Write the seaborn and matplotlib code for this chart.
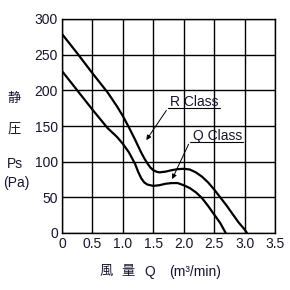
import seaborn as sns
import matplotlib.pyplot as plt

# fan curves
r_flow = [0, 0.25, 0.5, 0.75, 0.9, 1.0, 1.1, 1.2, 1.3, 1.35, 1.4, 1.45, 1.5, 1.55, 1.6,
          1.7, 1.8, 1.9, 2.0, 2.1, 2.2, 2.3, 2.4, 2.5, 2.6, 2.7, 2.8, 2.9, 3.0, 3.04]
r_ps = [279, 252, 224, 197, 178, 164, 148, 131, 113, 105, 98, 92, 88, 86, 85,
        86, 88, 89.5, 90, 89, 85, 79, 71, 61, 50, 39, 27, 15, 5, 0]
q_flow = [0, 0.25, 0.5, 0.75, 0.9, 1.0, 1.1, 1.2, 1.25, 1.3, 1.35, 1.4, 1.5, 1.6,
          1.7, 1.8, 1.9, 2.0, 2.1, 2.2, 2.3, 2.4, 2.5, 2.6, 2.69]
q_ps = [227, 200, 173, 147, 135, 125, 113, 97, 86, 77, 71, 68, 66, 67,
        69, 70, 70, 67, 63, 57, 49, 38, 26, 14, 0]

x_ticks = [0, 0.5, 1.0, 1.5, 2.0, 2.5, 3.0, 3.5]
x_tick_labels = ['0', '0.5', '1.0', '1.5', '2.0', '2.5', '3.0', '3.5']
y_ticks = [0, 50, 100, 150, 200, 250, 300]

sns.set_style('white')
plt.rcParams['font.family'] = ['Liberation Sans', 'Noto Sans CJK JP']
txt = '#15152e'

fig = plt.figure(figsize=(2.9, 2.9), dpi=100)
ax = fig.add_axes([62 / 290, 57 / 290, 213 / 290, 214 / 290])

sns.lineplot(x=r_flow, y=r_ps, sort=False, color='black', lw=1.6, ax=ax)
sns.lineplot(x=q_flow, y=q_ps, sort=False, color='black', lw=1.6, ax=ax)

ax.set_xlim(0, 3.5)
ax.set_ylim(0, 300)
ax.set_xticks(x_ticks, x_tick_labels)
ax.set_yticks(y_ticks)
ax.grid(True, color='black', lw=1.0)
ax.tick_params(length=0, labelsize=10, pad=3, labelcolor=txt)
for s in ax.spines.values():
    s.set_color('black')
    s.set_linewidth(1.0)
ax.set_xlabel('')
ax.set_ylabel('')

# class labels with underline and arrow
ax.annotate('', xy=(1.36, 127), xytext=(1.74, 175),
            arrowprops=dict(arrowstyle='-|>', color='black', lw=0.7, mutation_scale=7))
ax.plot([1.74, 2.6], [175, 175], color='black', lw=0.8)
ax.text(2.17, 177.5, 'R Class', ha='center', va='baseline', fontsize=10, color=txt)

ax.annotate('', xy=(1.79, 72), xytext=(2.10, 128),
            arrowprops=dict(arrowstyle='-|>', color='black', lw=0.7, mutation_scale=7))
ax.plot([2.10, 2.97], [128, 128], color='black', lw=0.8)
ax.text(2.55, 131, 'Q Class', ha='center', va='baseline', fontsize=10, color=txt)

# axis titles
def ftext(x, y, s, **kw):
    fig.text(x / 290, 1 - y / 290, s, ha='center', va='center', color=txt, **kw)

ftext(14, 98.5, '静', fontsize=9.5)
ftext(14, 129.5, '圧', fontsize=9.5)
ftext(15, 164, 'Ps', fontsize=10)
ftext(16.5, 183.5, '(Pa)', fontsize=10)

ftext(106.5, 272, '風', fontsize=9.5)
ftext(128.5, 272, '量', fontsize=9.5)
ftext(150, 272, 'Q', fontsize=10)
ftext(195, 272, '(m³/min)', fontsize=10)

fig.savefig('out.png', dpi=100)
